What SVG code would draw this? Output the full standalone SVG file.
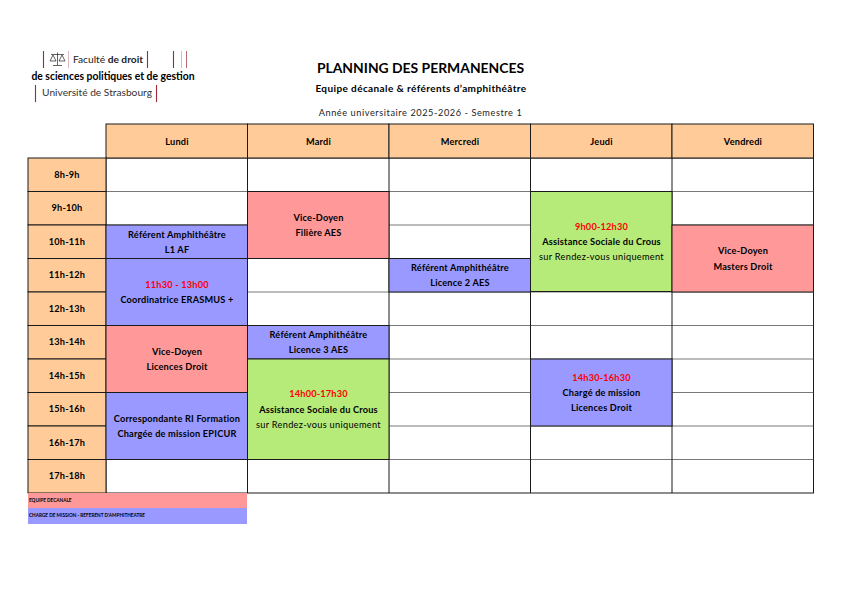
<svg xmlns="http://www.w3.org/2000/svg" width="842" height="595" viewBox="0 0 842 595">
<style>
text{font-family:Lato,"Liberation Sans",sans-serif;text-anchor:middle;fill:#000}
.b{font-weight:700;font-size:9.200px;letter-spacing:.2px}
.r{font-size:9.200px;letter-spacing:.3px}
.red{font-weight:700;font-size:9.200px;letter-spacing:.2px;fill:#f00}
.o{fill:#fc9}.p{fill:#f99}.v{fill:#99f}.g{fill:#b6eb7a}
.c{stroke:#1a1a1a;stroke-width:1}
.l{stroke:#555;stroke-width:.8;fill:none}
.m{stroke:#9a2a36;stroke-width:1.1}
.f{stroke:#e0b8bc;stroke-width:1}
</style>
<rect width="842" height="595" fill="#fff"/>

<g id="logo">
<path class="m" d="M43.500 51V68M147.500 51V68M173.500 51V68M35.500 85V102M156.500 85V102"/>
<path class="f" d="M68.500 51V68M181.500 51V68"/>
<path class="m" d="M186.500 51V68" style="stroke-width:.7"/>
<path d="M51 54.500H64M57.500 52.500V65M53 65.500H62M53 55L50 61H56ZM62 55L59 61H65Z" fill="none" stroke="#222" stroke-width=".7"/>
<text x="73" y="63" style="text-anchor:start;font-size:10.200px;fill:#222">Faculté <tspan font-weight="700">de droit</tspan></text>
<text x="113" y="80" style="font-size:10.400px;font-weight:700">de sciences politiques et de gestion</text>
<text x="97" y="96" style="font-size:10.200px;fill:#333">Université de Strasbourg</text>
</g>

<g id="titles">
<text x="420.500" y="73" style="font-size:13.900px;font-weight:700">PLANNING DES PERMANENCES</text>
<text x="421" y="92" style="font-size:10px;font-weight:700;letter-spacing:.4px">Equipe décanale &amp; référents d’amphithéâtre</text>
<text x="420.500" y="116" style="font-size:9.200px;fill:#222;letter-spacing:.57px">Année universitaire 2025-2026 - Semestre 1</text>
</g>

<g id="grid">
<rect class="c" x="106" y="158" width="707.500" height="335" fill="#fff"/>
<path class="l" d="M106 191.500H813.500M106 225H813.500M106 258.500H813.500M106 292H813.500M106 325.500H813.500M106 359H813.500M106 392.500H813.500M106 426H813.500M106 459.500H813.500"/>
<path class="c" d="M247.500 158V493M389 158V493M530.500 158V493M672 158V493"/>
</g>

<g id="day-headers">
<rect class="o c" x="106" y="124" width="141.500" height="34"/><text class="b" x="177" y="145">Lundi</text>
<rect class="o c" x="247.500" y="124" width="141.500" height="34"/><text class="b" x="318.500" y="145">Mardi</text>
<rect class="o c" x="389" y="124" width="141.500" height="34"/><text class="b" x="460" y="145">Mercredi</text>
<rect class="o c" x="530.500" y="124" width="141.500" height="34"/><text class="b" x="601.500" y="145">Jeudi</text>
<rect class="o c" x="672" y="124" width="141.500" height="34"/><text class="b" x="743" y="145">Vendredi</text>
</g>

<g id="hour-headers">
<rect class="o c" x="28" y="158" width="78" height="33.500"/><text class="b" x="67" y="178">8h-9h</text>
<rect class="o c" x="28" y="191.500" width="78" height="33.500"/><text class="b" x="67" y="211">9h-10h</text>
<rect class="o c" x="28" y="225" width="78" height="33.500"/><text class="b" x="67" y="245">10h-11h</text>
<rect class="o c" x="28" y="258.500" width="78" height="33.500"/><text class="b" x="67" y="278">11h-12h</text>
<rect class="o c" x="28" y="292" width="78" height="33.500"/><text class="b" x="67" y="312">12h-13h</text>
<rect class="o c" x="28" y="325.500" width="78" height="33.500"/><text class="b" x="67" y="345">13h-14h</text>
<rect class="o c" x="28" y="359" width="78" height="33.500"/><text class="b" x="67" y="379">14h-15h</text>
<rect class="o c" x="28" y="392.500" width="78" height="33.500"/><text class="b" x="67" y="412">15h-16h</text>
<rect class="o c" x="28" y="426" width="78" height="33.500"/><text class="b" x="67" y="446">16h-17h</text>
<rect class="o c" x="28" y="459.500" width="78" height="33.500"/><text class="b" x="67" y="479">17h-18h</text>
</g>

<g id="slot-referent-l1"><rect class="v c" x="106" y="225" width="141.500" height="33.500"/><text class="b" x="177" y="238">Référent Amphithéâtre</text><text class="b" x="177" y="253">L1 AF</text></g>
<g id="slot-erasmus"><rect class="v c" x="106" y="258.500" width="141.500" height="67"/><text class="red" x="177" y="288">11h30 - 13h00</text><text class="b" x="177" y="303">Coordinatrice ERASMUS +</text></g>
<g id="slot-vd-licences"><rect class="p c" x="106" y="325.500" width="141.500" height="67"/><text class="b" x="177" y="355">Vice-Doyen</text><text class="b" x="177" y="370">Licences Droit</text></g>
<g id="slot-ri"><rect class="v c" x="106" y="392.500" width="141.500" height="67"/><text class="b" x="177" y="422">Correspondante RI Formation</text><text class="b" x="177" y="437">Chargée de mission EPICUR</text></g>
<g id="slot-vd-aes"><rect class="p c" x="247.500" y="191.500" width="141.500" height="67"/><text class="b" x="318.500" y="221">Vice-Doyen</text><text class="b" x="318.500" y="236">Filière AES</text></g>
<g id="slot-referent-l3"><rect class="v c" x="247.500" y="325.500" width="141.500" height="33.500"/><text class="b" x="318.500" y="338">Référent Amphithéâtre</text><text class="b" x="318.500" y="353">Licence 3 AES</text></g>
<g id="slot-crous-mardi"><rect class="g c" x="247.500" y="359" width="141.500" height="100.500"/><text class="red" x="318.500" y="397">14h00-17h30</text><text class="b" x="318.500" y="413">Assistance Sociale du Crous</text><text class="r" x="318.500" y="428">sur Rendez-vous uniquement</text></g>
<g id="slot-referent-l2"><rect class="v c" x="389" y="258.500" width="141.500" height="33.500"/><text class="b" x="460" y="271">Référent Amphithéâtre</text><text class="b" x="460" y="286">Licence 2 AES</text></g>
<g id="slot-crous-jeudi"><rect class="g c" x="530.500" y="191.500" width="141.500" height="100"/><text class="red" x="601.500" y="230">9h00-12h30</text><text class="b" x="601.500" y="245">Assistance Sociale du Crous</text><text class="r" x="601.500" y="260">sur Rendez-vous uniquement</text></g>
<g id="slot-mission"><rect class="v c" x="530.500" y="359" width="141.500" height="67"/><text class="red" x="601.500" y="381">14h30-16h30</text><text class="b" x="601.500" y="396">Chargé de mission</text><text class="b" x="601.500" y="411">Licences Droit</text></g>
<g id="slot-vd-masters"><rect class="p c" x="672" y="225" width="141.500" height="67"/><text class="b" x="743" y="254">Vice-Doyen</text><text class="b" x="743" y="270">Masters Droit</text></g>

<g id="legend">
<rect class="p" x="28" y="493" width="219" height="15"/>
<rect class="v" x="28" y="508" width="219" height="16"/>
<text x="29" y="502" style="text-anchor:start;font-size:4.700px;font-weight:700">EQUIPE DECANALE</text>
<text x="29" y="517" style="text-anchor:start;font-size:4.700px;font-weight:700">CHARGE DE MISSION - REFERENT D'AMPHITHEATRE</text>
</g>
</svg>
